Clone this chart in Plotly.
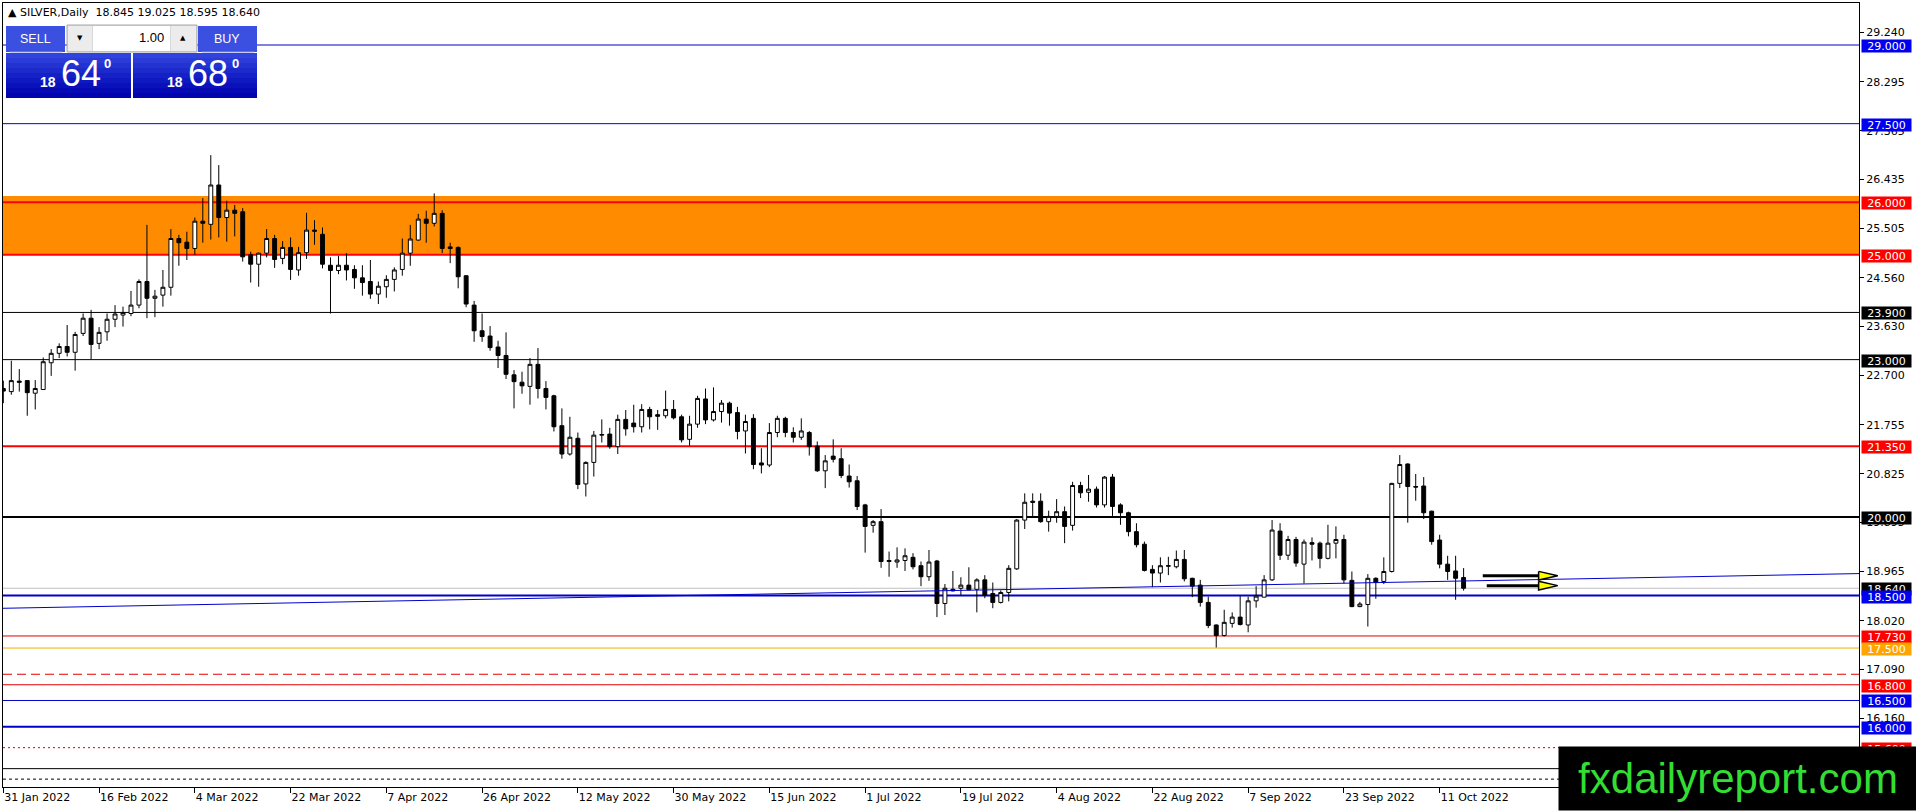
import pandas as pd
import plotly.graph_objs as go

# daily bars, 31 Jan 2022 .. 14 Oct 2022 (no bar on Good Friday)
DATES = [d for d in pd.bdate_range("2022-01-31", "2022-10-14") if d != pd.Timestamp("2022-04-15")]

OPEN = [22.45, 22.39, 22.59, 22.60, 22.36, 22.43, 22.94, 23.12, 23.25, 23.14,
        23.50, 23.79, 23.31, 23.53, 23.77, 23.85, 23.88, 24.04, 24.49, 24.17,
        24.23, 24.38, 25.31, 25.24, 25.12, 25.64, 25.58, 26.33, 25.71, 25.85,
        25.82, 25.00, 24.82, 25.03, 25.31, 24.93, 25.14, 24.71, 25.04, 25.47,
        25.39, 24.80, 24.70, 24.80, 24.72, 24.56, 24.49, 24.25, 24.39, 24.53,
        24.72, 25.03, 25.28, 25.68, 25.60, 25.79, 25.15, 25.14, 24.60, 24.04,
        23.55, 23.45, 23.24, 23.08, 22.71, 22.57, 22.49, 22.91, 22.45, 22.31,
        21.74, 21.20, 21.50, 20.63, 21.04, 21.56, 21.58, 21.34, 21.86, 21.79,
        21.72, 22.05, 21.95, 21.93, 22.05, 21.91, 21.48, 21.77, 22.25, 21.85,
        22.01, 22.17, 21.99, 21.64, 21.88, 21.03, 20.99, 21.61, 21.88, 21.61,
        21.52, 21.61, 21.35, 20.88, 21.16, 21.11, 20.78, 20.69, 20.23, 19.84,
        19.91, 19.15, 19.14, 19.17, 19.23, 19.07, 18.86, 19.16, 18.35, 18.62,
        18.64, 18.70, 18.62, 18.80, 18.54, 18.37, 18.56, 19.01, 19.94, 20.30,
        20.30, 19.91, 20.01, 20.10, 19.84, 20.60, 20.47, 20.53, 20.23, 20.76,
        20.23, 20.08, 19.72, 19.48, 19.00, 18.93, 19.06, 19.05, 19.19, 18.83,
        18.70, 18.37, 17.94, 17.74, 17.97, 18.09, 17.94, 18.40, 18.47, 18.80,
        19.73, 19.27, 19.57, 19.10, 19.51, 19.50, 19.21, 19.50, 19.57, 18.79,
        18.29, 18.33, 18.83, 18.77, 18.96, 20.64, 21.01, 20.58, 20.59, 20.11,
        19.56, 19.10, 18.97, 18.845]
HIGH = [22.60, 22.98, 22.82, 22.61, 22.61, 23.04, 23.20, 23.31, 23.66, 23.53,
        23.88, 23.95, 23.62, 23.88, 24.04, 24.01, 24.31, 24.53, 25.57, 24.33,
        24.71, 25.49, 25.38, 25.44, 25.71, 26.08, 26.90, 26.71, 26.03, 25.95,
        25.89, 25.06, 25.04, 25.49, 25.38, 25.26, 25.33, 25.15, 25.80, 25.66,
        25.52, 24.95, 24.98, 25.03, 24.80, 24.80, 24.90, 24.49, 24.61, 24.76,
        25.31, 25.57, 25.78, 25.84, 26.17, 25.85, 25.23, 25.16, 24.61, 24.12,
        23.88, 23.64, 23.36, 23.52, 22.80, 22.77, 23.03, 23.22, 22.59, 22.33,
        22.07, 21.91, 21.61, 21.06, 21.64, 21.86, 21.70, 21.95, 22.04, 22.14,
        22.15, 22.10, 22.04, 22.41, 22.23, 21.95, 21.93, 22.31, 22.45, 22.47,
        22.23, 22.20, 22.10, 21.95, 21.96, 21.31, 21.79, 21.93, 21.91, 21.71,
        21.88, 21.64, 21.44, 21.18, 21.48, 21.31, 21.00, 20.78, 20.25, 19.94,
        20.15, 19.34, 19.42, 19.40, 19.31, 19.15, 19.37, 19.18, 18.72, 18.97,
        18.85, 19.04, 18.83, 18.89, 18.75, 18.60, 19.08, 19.96, 20.45, 20.45,
        20.45, 20.12, 20.34, 20.20, 20.67, 20.67, 20.80, 20.58, 20.78, 20.82,
        20.26, 20.10, 19.88, 19.53, 19.08, 19.23, 19.24, 19.36, 19.37, 18.84,
        18.80, 18.48, 17.95, 18.23, 18.18, 18.49, 18.48, 18.68, 18.89, 19.94,
        19.88, 19.64, 19.62, 19.57, 19.61, 19.53, 19.85, 19.82, 19.66, 18.96,
        18.38, 18.91, 18.85, 19.23, 20.65, 21.18, 21.02, 20.82, 20.76, 20.12,
        19.66, 19.26, 19.26, 19.025]
LOW = [22.17, 22.33, 22.39, 21.93, 22.05, 22.43, 22.69, 23.03, 23.06, 22.79,
       23.45, 23.01, 23.20, 23.36, 23.62, 23.63, 23.83, 23.98, 23.79, 23.81,
       24.01, 24.22, 24.79, 24.90, 25.00, 25.23, 25.29, 25.33, 25.25, 25.35,
       24.87, 24.47, 24.39, 24.95, 24.75, 24.82, 24.52, 24.60, 24.92, 25.19,
       24.74, 23.88, 24.63, 24.51, 24.35, 24.22, 24.16, 24.06, 24.18, 24.30,
       24.60, 24.79, 25.27, 25.23, 25.54, 25.03, 24.84, 24.36, 24.00, 23.34,
       23.34, 23.17, 22.84, 22.63, 22.07, 22.35, 22.14, 22.26, 22.05, 21.63,
       21.11, 21.17, 20.53, 20.39, 20.77, 21.42, 21.30, 21.20, 21.55, 21.61,
       21.61, 21.67, 21.66, 21.88, 21.86, 21.42, 21.36, 21.70, 21.77, 21.82,
       21.80, 21.74, 21.48, 21.21, 20.91, 20.83, 20.95, 21.52, 21.52, 21.42,
       21.47, 21.17, 20.86, 20.55, 21.04, 20.74, 20.56, 20.13, 19.32, 19.70,
       19.03, 18.86, 19.03, 18.97, 19.00, 18.68, 18.78, 18.09, 18.13, 18.58,
       18.51, 18.60, 18.18, 18.45, 18.26, 18.35, 18.39, 18.99, 19.77, 20.01,
       19.89, 19.72, 19.89, 19.50, 19.74, 20.36, 20.29, 20.18, 20.18, 20.02,
       19.85, 19.63, 19.42, 18.96, 18.66, 18.75, 18.89, 19.02, 18.77, 18.47,
       18.29, 17.88, 17.51, 17.72, 17.89, 17.93, 17.80, 18.27, 18.47, 18.78,
       19.18, 19.18, 19.05, 18.73, 19.17, 19.02, 19.19, 19.21, 18.73, 18.28,
       18.28, 17.91, 18.44, 18.72, 18.94, 20.55, 19.89, 20.31, 19.96, 19.47,
       19.02, 18.80, 18.42, 18.595]
CLOSE = [22.40, 22.60, 22.57, 22.37, 22.45, 22.96, 23.12, 23.25, 23.14, 23.48,
         23.79, 23.29, 23.52, 23.77, 23.87, 23.90, 24.04, 24.49, 24.17, 24.21,
         24.38, 25.31, 25.23, 25.12, 25.64, 25.60, 26.33, 25.71, 25.85, 25.79,
         24.96, 24.82, 25.03, 25.31, 24.91, 25.14, 24.72, 25.04, 25.47, 25.45,
         24.82, 24.70, 24.80, 24.71, 24.56, 24.47, 24.25, 24.40, 24.53, 24.71,
         25.03, 25.30, 25.68, 25.60, 25.79, 25.12, 25.12, 24.58, 24.06, 23.55,
         23.44, 23.23, 23.08, 22.72, 22.58, 22.50, 22.91, 22.45, 22.28, 21.72,
         21.20, 21.52, 20.62, 21.04, 21.56, 21.57, 21.34, 21.86, 21.68, 21.72,
         22.05, 21.91, 21.92, 22.05, 21.89, 21.47, 21.77, 22.26, 21.85, 22.01,
         22.17, 21.98, 21.63, 21.82, 21.00, 20.99, 21.61, 21.88, 21.61, 21.52,
         21.64, 21.34, 20.88, 21.07, 21.10, 20.79, 20.67, 20.20, 19.82, 19.91,
         19.15, 19.17, 19.18, 19.26, 19.05, 18.86, 19.14, 18.35, 18.64, 18.59,
         18.70, 18.61, 18.80, 18.51, 18.37, 18.56, 19.02, 19.94, 20.28, 20.28,
         19.91, 20.01, 20.10, 19.82, 20.60, 20.46, 20.53, 20.23, 20.76, 20.20,
         20.08, 19.72, 19.47, 18.98, 18.93, 19.07, 19.07, 19.19, 18.82, 18.68,
         18.37, 17.93, 17.74, 17.99, 18.09, 17.95, 18.40, 18.49, 18.80, 19.75,
         19.27, 19.57, 19.12, 19.52, 19.48, 19.21, 19.50, 19.57, 18.80, 18.29,
         18.34, 18.83, 18.75, 18.96, 20.64, 21.00, 20.58, 20.57, 20.08, 19.53,
         19.10, 18.96, 18.83, 18.640]

BID = 18.640

# price scale labels as printed on the right axis
Y_TICKS = [29.240, 28.295, 27.365, 26.435, 25.505, 24.560, 23.630, 22.700,
           21.755, 20.825, 19.895, 18.965, 18.020, 17.090, 16.160, 15.230]

# horizontal levels drawn on the chart
LEVEL_PRICES = [29.0, 27.5, 26.0, 25.0, 23.9, 23.0, 21.35, 20.0, 18.5,
                17.73, 17.5, 17.0, 16.8, 16.5, 16.0, 15.6, 15.2, 15.0]
LEVEL_KIND = ["blue", "blue", "red2", "red2", "black", "black", "red2", "black2", "blue2",
              "red", "orange", "reddash", "red", "blue", "blue2", "reddot", "black", "blackdot"]

# supply zone
ZONE = [25.0, 26.12]

# trend line anchors (bar index, price)
TREND_BARS = [-0.04, 232.55]
TREND_PRICES = [18.258, 18.920]

# the two arrow objects on the right
ARROW_PRICES = [18.88, 18.69]
ARROW_START = [185.4, 185.9]

STYLES = {
    "blue":     dict(color="#0000cd", width=1, dash="solid", label="#0000ee"),
    "blue2":    dict(color="#0000cd", width=2, dash="solid", label="#0000ee"),
    "red":      dict(color="#e00000", width=1, dash="solid", label="#ff0000"),
    "red2":     dict(color="#ff0000", width=2, dash="solid", label="#ff0000"),
    "black":    dict(color="#000000", width=1, dash="solid", label="#000000"),
    "black2":   dict(color="#000000", width=2, dash="solid", label="#000000"),
    "orange":   dict(color="#f0b000", width=1, dash="solid", label="#ffa500"),
    "reddash":  dict(color="#e00000", width=1, dash="9px,5px", label=None),
    "reddot":   dict(color="#e00000", width=1, dash="2px,3px", label="#ff0000"),
    "blackdot": dict(color="#000000", width=1, dash="3px,3px", label=None),
}

# figure geometry (pixels)
W, H = 1916, 811
L, R, T, B = 3, 1859, 3, 787
FONT = "DejaVu Sans"


def px(x):
    return (x - L) / (R - L)


def py(y):
    return (B - y) / (B - T)


n = len(CLOSE)
xs = list(range(n))
tick_idx = list(range(0, n, 12))
tick_text = [f"{DATES[i].day} {DATES[i]:%b %Y}" for i in tick_idx]

shapes = []
annotations = []

# orange zone
shapes.append(dict(type="rect", xref="paper", yref="y", x0=0, x1=1, y0=ZONE[0], y1=ZONE[1],
                   fillcolor="#ff8c00", line=dict(width=0), layer="below"))

# bid line
shapes.append(dict(type="line", xref="paper", yref="y", x0=0, x1=1, y0=BID, y1=BID,
                   line=dict(color="#c0c0c0", width=1), layer="below"))

for p, k in zip(LEVEL_PRICES, LEVEL_KIND):
    st = STYLES[k]
    shapes.append(dict(type="line", xref="paper", yref="y", x0=0, x1=1, y0=p, y1=p,
                       line=dict(color=st["color"], width=st["width"], dash=st["dash"]),
                       layer="below"))


def price_label(p, bg, yshift=-1):
    annotations.append(dict(x=1, xref="paper", y=p, yref="y", xanchor="left", yanchor="middle",
                            xshift=2, yshift=yshift, text=f"{p:.3f}", showarrow=False,
                            bgcolor=bg, width=49, height=12, borderpad=0, align="center",
                            font=dict(family=FONT, size=11, color="white")))


# current price first, so 18.500 sits on top of it
price_label(BID, "#000000")
for p, k in zip(LEVEL_PRICES, LEVEL_KIND):
    if STYLES[k]["label"]:
        price_label(p, STYLES[k]["label"])

data = []

# trend line
data.append(go.Scatter(x=TREND_BARS, y=TREND_PRICES, mode="lines",
                       line=dict(color="#0000cd", width=1), hoverinfo="skip", showlegend=False))

# candles
data.append(go.Candlestick(x=xs, open=OPEN, high=HIGH, low=LOW, close=CLOSE,
                           increasing=dict(line=dict(color="black", width=1), fillcolor="white"),
                           decreasing=dict(line=dict(color="black", width=1), fillcolor="black"),
                           whiskerwidth=0, hoverinfo="skip", showlegend=False))

# arrows: black shaft + yellow head
head_len = 2.4
head_h = 4.3 / 52.44
for p, x0 in zip(ARROW_PRICES, ARROW_START):
    xb = 192.4
    data.append(go.Scatter(x=[x0, xb], y=[p, p], mode="lines",
                           line=dict(color="black", width=3), hoverinfo="skip", showlegend=False))
    data.append(go.Scatter(x=[xb, xb + head_len, xb, xb], y=[p + head_h, p, p - head_h, p + head_h],
                           mode="lines", fill="toself", fillcolor="#ffff00",
                           line=dict(color="black", width=1.5), hoverinfo="skip", showlegend=False))


# one-click trading panel (top left)
def rect(x0, y0, x1, y1, fill, line_color=None):
    shapes.append(dict(type="rect", xref="paper", yref="paper",
                       x0=px(x0), x1=px(x1), y0=py(y1), y1=py(y0), fillcolor=fill,
                       line=dict(width=1 if line_color else 0, color=line_color or fill),
                       layer="above"))


def label(x, y, text, size, color="white", family="Liberation Sans", xanchor="center", bold=False):
    if bold:
        text = "<b>" + text + "</b>"
    annotations.append(dict(x=px(x), y=py(y), xref="paper", yref="paper", text=text,
                            showarrow=False, xanchor=xanchor, yanchor="middle",
                            font=dict(family=family, size=size, color=color)))


# header strip behind the symbol text
rect(3, 3, 300, 24, "white")

rect(6, 26, 65, 52, "#3b4fe0")
rect(198, 26, 257, 52, "#3b4fe0")
shapes.append(dict(type="line", xref="paper", yref="paper", x0=px(10), x1=px(62), y0=py(52), y1=py(52),
                   line=dict(color="#8a98f0", width=1), layer="above"))
shapes.append(dict(type="line", xref="paper", yref="paper", x0=px(202), x1=px(254), y0=py(52), y1=py(52),
                   line=dict(color="#8a98f0", width=1), layer="above"))

# gradient price boxes
grad = ["#3043dc", "#2a3bd8", "#2333d2", "#1c2acc", "#1521c6", "#0f19c0", "#0a11ba", "#050ab4", "#0205ae"]
for j, c in enumerate(grad):
    y0 = 53 + j * 5
    rect(6, y0, 131, y0 + 5, c)
    rect(133, y0, 257, y0 + 5, c)

rect(67, 25, 197, 52, "#d8d8d8", "#a8a8a8")
rect(68, 26, 92, 51, "#ececec")
rect(93, 26, 170, 51, "white")
rect(171, 26, 196, 51, "#ececec")

label(35, 39, "SELL", 12.5)
label(227, 39, "BUY", 12.5)
label(80, 38, "▼", 7, color="black", family=FONT)
label(183, 38, "▲", 7, color="black", family=FONT)
label(166, 38, "1.00", 13, color="black", xanchor="right")

label(48, 82, "18", 14, bold=True)
label(81, 73, "64", 36)
label(107, 64, "0", 13, bold=True)
label(175, 82, "18", 14, bold=True)
label(208, 73, "68", 36)
label(235, 64, "0", 13, bold=True)

# symbol header
label(6, 13, "▲ SILVER,Daily  %.3f %.3f %.3f %.3f" % (OPEN[-1], HIGH[-1], LOW[-1], CLOSE[-1]),
      11, color="black", family=FONT, xanchor="left")

# watermark, bottom right
annotations.append(dict(x=px(1558), y=py(811), xref="paper", yref="paper", xanchor="left",
                        yanchor="bottom", text="fxdailyreport.com", showarrow=False,
                        bgcolor="black", width=358, height=63, borderpad=0, align="center",
                        font=dict(family="Liberation Sans", size=42, color="#33dd33")))

layout = go.Layout(
    width=W,
    height=H,
    autosize=False,
    margin=dict(l=L, r=W - R, t=T, b=H - B, pad=0),
    paper_bgcolor="white",
    plot_bgcolor="white",
    showlegend=False,
    hovermode=False,
    dragmode=False,
    font=dict(family=FONT, size=11, color="black"),
    xaxis=dict(range=[-0.04, 232.55], tickvals=tick_idx, ticktext=tick_text,
               ticks="outside", ticklen=5, tickcolor="black", ticklabelposition="outside right",
               showgrid=False, zeroline=False, showline=True, linecolor="black", linewidth=1,
               mirror=True, rangeslider=dict(visible=False), fixedrange=True,
               tickfont=dict(family=FONT, size=11, color="black")),
    yaxis=dict(range=[14.850, 29.801], side="right", tickvals=Y_TICKS,
               ticktext=[f"{v:.3f}" for v in Y_TICKS],
               ticks="outside", ticklen=4, tickcolor="black",
               showgrid=False, zeroline=False, showline=True, linecolor="black", linewidth=1,
               mirror=True, fixedrange=True,
               tickfont=dict(family=FONT, size=11, color="black")),
    boxgap=0.3,
    boxgroupgap=0.3,
    shapes=shapes,
    annotations=annotations,
)

fig = go.Figure(data=data, layout=layout)
fig.write_html("out.html", config=dict(displayModeBar=False, staticPlot=True),
               post_script="document.body.style.margin='0';document.body.style.overflow='hidden';")
